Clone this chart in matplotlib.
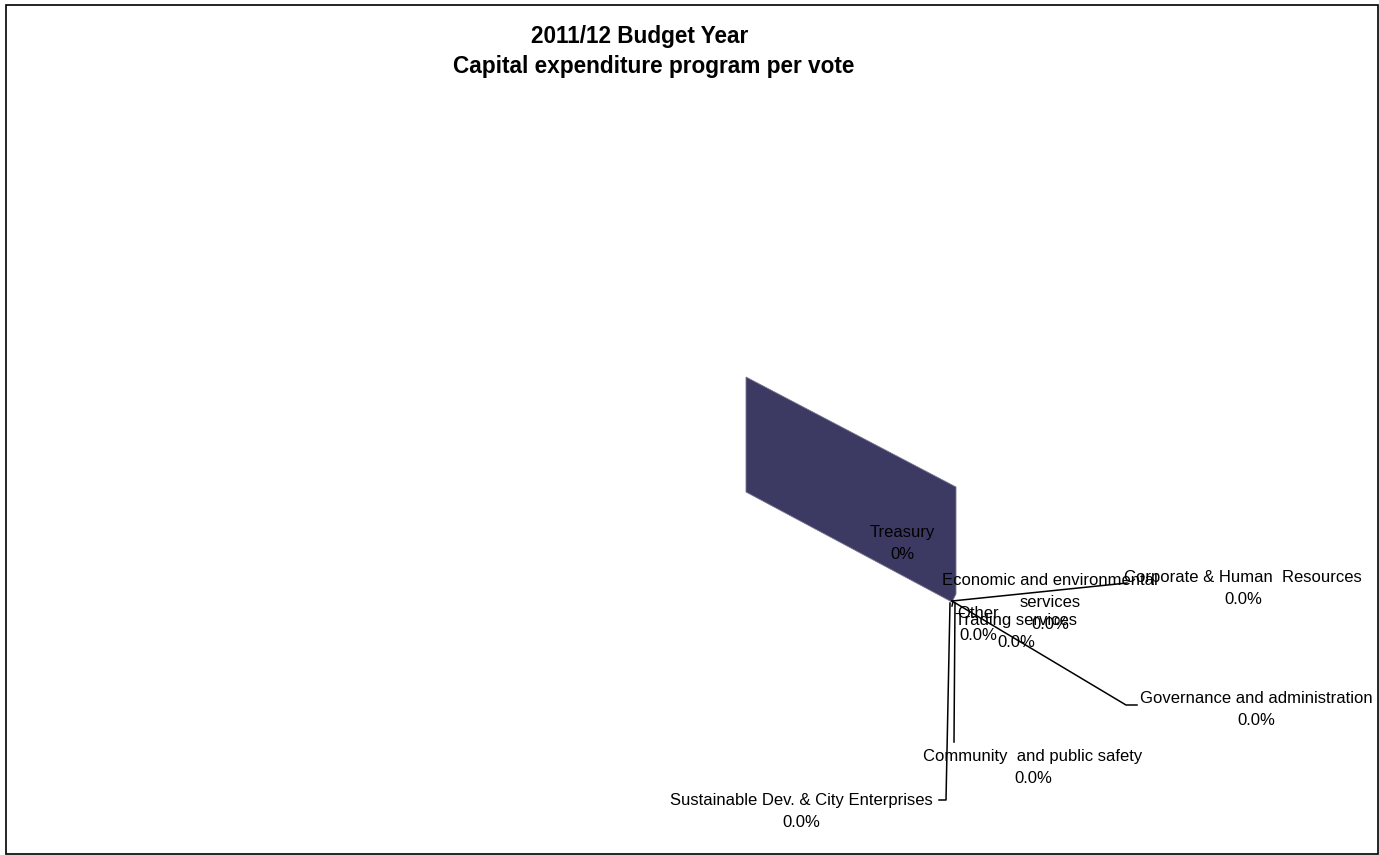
import matplotlib
matplotlib.use("Agg")
import matplotlib.pyplot as plt
from matplotlib.patches import Polygon, Rectangle

# ---- data ----
title_lines = ["2011/12 Budget Year", "Capital expenditure program per vote"]
categories = ["Treasury", "Economic and environmental\nservices", "Corporate & Human  Resources",
              "Other", "Trading services", "Governance and administration",
              "Community  and public safety", "Sustainable Dev. & City Enterprises"]
values = [0.0, 0.0, 0.0, 0.0, 0.0, 0.0, 0.0, 0.0]
pct_labels = ["0%", "0.0%", "0.0%", "0.0%", "0.0%", "0.0%", "0.0%", "0.0%"]

# ---- layout (pixel space) ----
W, H = 1379, 855
apex = (952, 601)
# label centre (x, y of first line)
label_pos = [(902, 532), (1050, 580), (1243, 577),
             (978, 613), (1016, 620), (1256, 698),
             (1033, 756), (801, 800)]
line_step = 22
# leader lines
leaders = [
    [apex, (1127, 583)],
    [apex, (1126, 705), (1137, 705)],
    [(955, 603), (954, 742)],
    [(950, 603), (946, 800), (939, 800)],
    [(953, 602), (952, 606)],
]
slice_shape = [(746, 377), (956, 487), (956, 594), (952, 602), (746, 492)]
slice_color = "#3c3a63"

fig = plt.figure(figsize=(W / 100, H / 100), dpi=100)
ax = fig.add_axes([0, 0, 1, 1])
ax.set_xlim(0, W)
ax.set_ylim(H, 0)
ax.axis("off")

font = ["Liberation Sans", "DejaVu Sans"]

ax.add_patch(Rectangle((6, 5), 1372, 849, fill=False, edgecolor="black", lw=1.2))

title_x = [640, 654]
for i, t in enumerate(title_lines):
    ax.text(title_x[i], 37 + i * 29, t, ha="center", va="center", fontsize=16.3,
            fontweight="bold", family=font)

ax.add_patch(Polygon(slice_shape, closed=True, facecolor=slice_color,
                     edgecolor="#77768f", lw=0.6))

for pts in leaders:
    xs = [p[0] for p in pts]
    ys = [p[1] for p in pts]
    ax.plot(xs, ys, color="black", lw=1.1)

for i, (cat, val, pct) in enumerate(zip(categories, values, pct_labels)):
    x, y = label_pos[i]
    lines = cat.split("\n") + [pct]
    for j, ln in enumerate(lines):
        ax.text(x, y + j * line_step, ln, ha="center", va="center", fontsize=12,
                family=font, color="black")

fig.savefig("out.png", dpi=100)
